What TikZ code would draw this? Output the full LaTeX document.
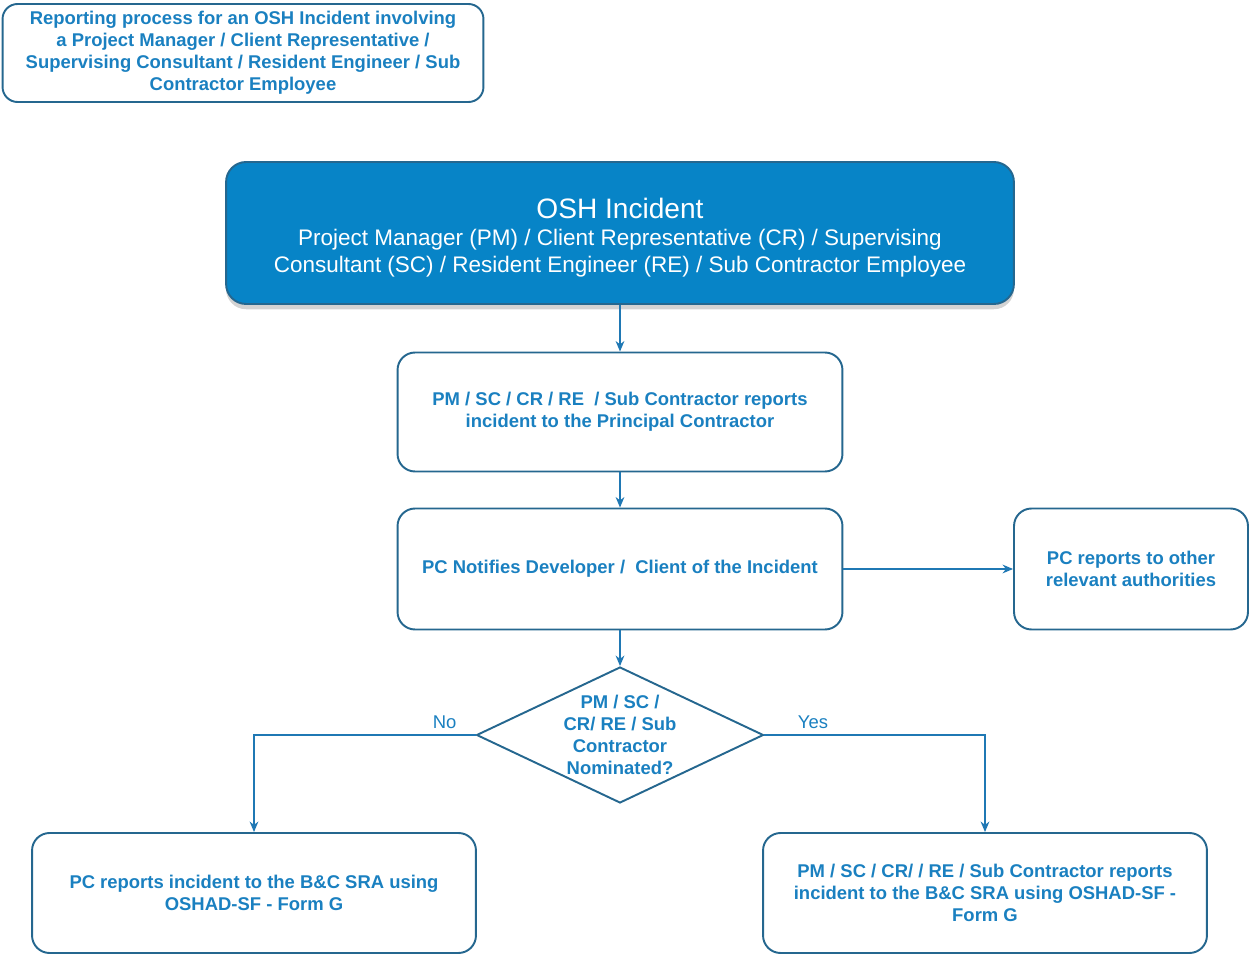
\documentclass[tikz,border=0pt]{standalone}
\usepackage{fontspec}
\setmainfont{Liberation Sans}
\usetikzlibrary{shapes,shadows,arrows.meta}

\definecolor{oshtext}{HTML}{1A80C0}
\definecolor{oshborder}{HTML}{25678F}
\definecolor{oshfill}{HTML}{0784C7}
\definecolor{oshline}{HTML}{1F78B4}

\begin{document}
\begin{tikzpicture}[x=0.02cm,y=-0.02cm]
    \tikzstyle{box}=[
      draw=oshborder,
      line width=1.1pt,
      rounded corners=0.35cm,
      align=center,
      text=oshtext,
      font=\bfseries\fontsize{10.5}{12.6}\selectfont,
    ]
    \tikzstyle{dedge}=[line width=0.8pt,->,>={Stealth[length=6pt,width=5pt]},draw=oshline]
    \tikzstyle{lbl}=[text=oshtext,font=\fontsize{10.5}{12}\selectfont]

    \useasboundingbox (0,0) rectangle (1252,956);

    \node[box,minimum width=9.62cm,minimum height=1.96cm,rounded corners=0.3cm] (title) at (243,53)
      {Reporting process for an OSH Incident involving\\a Project Manager / Client Representative /\\Supervising Consultant / Resident Engineer / Sub\\Contractor Employee};

    \node[box,fill=oshfill,text=white,drop shadow={opacity=0.35,shadow xshift=0pt,shadow yshift=-3pt},
          minimum width=15.76cm,minimum height=2.84cm,rounded corners=0.4cm,
          font=\fontsize{12.8}{15.3}\selectfont] (incident) at (620,233)
      {{\fontsize{16}{19}\selectfont\rule{0pt}{16.5pt}OSH Incident}\\Project Manager (PM) / Client Representative (CR) / Supervising\\Consultant (SC) / Resident Engineer (RE) / Sub Contractor Employee};

    \node[box,minimum width=8.9cm,minimum height=2.38cm] (report) at (620,412)
      {PM / SC / CR / RE \ / Sub Contractor reports\\incident to the Principal Contractor};
    \node[box,minimum width=8.9cm,minimum height=2.42cm] (notify) at (620,569)
      {PC Notifies Developer / \ Client of the Incident};
    \node[box,minimum width=4.68cm,minimum height=2.42cm] (other) at (1131,569)
      {PC reports to other\\relevant authorities};

    \node[box,rounded corners=0pt,shape=diamond,aspect=2.1,inner sep=-6pt,minimum width=5.74cm,minimum height=2.72cm] (nominated) at (620,735)
      {PM / SC /\\CR/ RE / Sub\\Contractor\\Nominated?};

    \node[box,minimum width=8.88cm,minimum height=2.4cm] (sra) at (254,893)
      {PC reports incident to the B\&C SRA using\\OSHAD-SF - Form G};
    \node[box,minimum width=8.88cm,minimum height=2.4cm] (subsra) at (985,893)
      {PM / SC / CR/ / RE / Sub Contractor reports\\incident to the B\&C SRA using OSHAD-SF -\\Form G};

    \draw[dedge] (incident) -- (report);
    \draw[dedge] (report) -- (notify);
    \draw[dedge] (notify) -- (other);
    \draw[dedge] (notify) -- (nominated);
    \draw[dedge] (nominated.west) -| (sra.north) node[lbl,pos=0.07,above] {No};
    \draw[dedge] (nominated.east) -| (subsra.north) node[lbl,pos=0.11,above] {Yes};
\end{tikzpicture}
\end{document}
